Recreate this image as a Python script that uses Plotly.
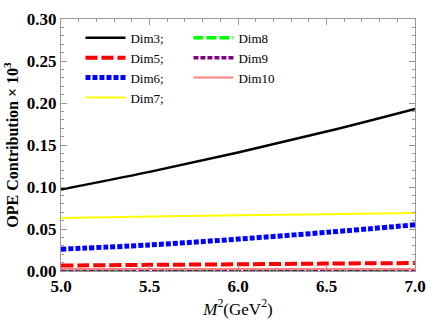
import plotly.graph_objects as go

m2 = [5.0, 5.5, 6.0, 6.5, 7.0]
dim3 = [0.097, 0.118, 0.141, 0.166, 0.193]
dim5 = [0.0065, 0.0073, 0.0080, 0.0088, 0.0095]
dim6 = [0.026, 0.031, 0.038, 0.046, 0.055]
dim7 = [0.063, 0.0648, 0.0663, 0.0677, 0.069]
dim8 = [0.0003, 0.0003, 0.0003, 0.0003, 0.0003]
dim9 = [0.0015, 0.0015, 0.0015, 0.0015, 0.0015]
dim10 = [0.0025, 0.0025, 0.0025, 0.0025, 0.0025]

series = [
    ("Dim3;", dim3, "#000000", 2.5, "solid", "legend"),
    ("Dim5;", dim5, "#FF0000", 4, "12px,4px", "legend"),
    ("Dim6;", dim6, "#0000FF", 5, "5px,2px", "legend"),
    ("Dim7;", dim7, "#FFFF00", 2, "solid", "legend"),
    ("Dim8", dim8, "#00FF00", 3.5, "10px,3px", "legend2"),
    ("Dim9", dim9, "#800080", 3.5, "5px,2px", "legend2"),
    ("Dim10", dim10, "#FF8080", 2, "solid", "legend2"),
]

fig = go.Figure()
for name, ys, color, w, dash, leg in series:
    fig.add_trace(go.Scatter(x=m2, y=ys, mode="lines", name=name,
                             line=dict(color=color, width=w, dash=dash, shape="spline"),
                             legend=leg))

serif = "Liberation Serif"
legfont = dict(family=serif, size=13, color="black")
fig.update_layout(
    width=436, height=327,
    margin=dict(l=61, r=10, t=11, b=56),
    paper_bgcolor="white", plot_bgcolor="white",
    showlegend=True,
    legend=dict(x=0.055, y=0.985, xanchor="left", yanchor="top", font=legfont,
                bgcolor="rgba(0,0,0,0)", tracegroupgap=0, itemwidth=40),
    legend2=dict(x=0.36, y=0.985, xanchor="left", yanchor="top", font=legfont,
                 bgcolor="rgba(0,0,0,0)", tracegroupgap=0, itemwidth=40),
    xaxis=dict(range=[5.0, 7.0], tick0=5.0, dtick=0.5, tickformat=".1f",
               showgrid=False, zeroline=False, showline=True, linecolor="#999999",
               mirror="allticks", ticks="inside", ticklen=6, tickcolor="#999999",
               minor=dict(dtick=0.1, ticks="inside", ticklen=3, tickcolor="#999999"),
               tickfont=dict(family=serif, size=17, color="black", weight="bold"),
               title=dict(text="<i>M</i><sup>2</sup>(GeV<sup>2</sup>)",
                          font=dict(family=serif, size=17, color="black"), standoff=6)),
    yaxis=dict(range=[0.0, 0.30], tick0=0, dtick=0.05, tickformat=".2f",
               showgrid=False, zeroline=False, showline=True, linecolor="#999999",
               mirror="allticks", ticks="inside", ticklen=6, tickcolor="#999999",
               minor=dict(dtick=0.01, ticks="inside", ticklen=3, tickcolor="#999999"),
               tickfont=dict(family=serif, size=17, color="black", weight="bold"),
               title=dict(text="OPE Contribution × 10<sup>3</sup>",
                          font=dict(family=serif, size=16, color="black", weight="bold"),
                          standoff=4)),
)
fig.write_html("out.html", config={"displayModeBar": False},
               post_script="document.body.style.margin='0';document.body.style.overflow='hidden';")
